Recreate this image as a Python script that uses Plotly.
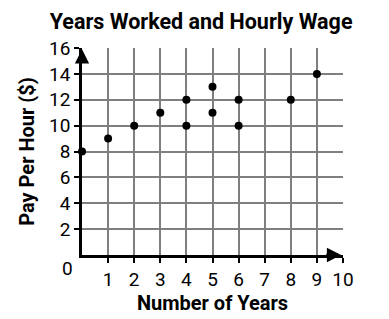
import plotly.graph_objects as go

# Data
years = [0, 1, 2, 3, 4, 4, 5, 5, 6, 6, 8, 9]
wage = [8, 9, 10, 11, 12, 10, 13, 11, 12, 10, 12, 14]
x_ticks = [1, 2, 3, 4, 5, 6, 7, 8, 9, 10]
y_ticks = [2, 4, 6, 8, 10, 12, 14, 16]

title_text = "Years Worked and Hourly Wage"
x_title = "Number of Years"
y_title = "Pay Per Hour ($)"

FONT = "Roboto"

fig = go.Figure()
fig.add_trace(go.Scatter(
    x=years, y=wage, mode="markers",
    marker=dict(color="black", size=8),
    cliponaxis=False, showlegend=False,
))

axis_common = dict(
    showgrid=True, gridcolor="#7f7f7f", gridwidth=1.6,
    showline=True, linecolor="black", linewidth=2.6,
    ticks="outside", ticklen=5, tickcolor="black", tickwidth=1.5,
    zeroline=False, fixedrange=True,
    tickfont=dict(family=FONT, size=19, color="black"),
)

fig.update_xaxes(range=[0, 10], tickvals=x_ticks, ticktext=[str(v) for v in x_ticks],
                 title=dict(text=x_title, font=dict(family=FONT, size=20, color="black", weight="bold"), standoff=2),
                 **axis_common)
fig.update_yaxes(range=[0, 16], tickvals=y_ticks, ticktext=[str(v) for v in y_ticks],
                 title=dict(text=y_title, font=dict(family=FONT, size=20, color="black", weight="bold"), standoff=10),
                 **axis_common)

# Arrowheads on axes
fig.add_annotation(x=9.93, y=0, ax=9.3, ay=0, xref="x", yref="y", axref="x", ayref="y",
                   showarrow=True, arrowhead=2, arrowsize=1.1, arrowwidth=2.6, arrowcolor="black", text="")
fig.add_annotation(x=0, y=15.9, ax=0, ay=15.0, xref="x", yref="y", axref="x", ayref="y",
                   showarrow=True, arrowhead=2, arrowsize=1.1, arrowwidth=2.6, arrowcolor="black", text="")
# Origin label
fig.add_annotation(x=0, y=0, xref="x", yref="y", text="0", showarrow=False,
                   xanchor="center", yanchor="middle", xshift=-15, yshift=-13,
                   font=dict(family=FONT, size=19, color="black"))

fig.update_layout(
    width=389, height=319,
    margin=dict(l=82, r=46, t=48, b=64),
    paper_bgcolor="white", plot_bgcolor="white",
    title=dict(text=title_text, x=0.517, xanchor="center", y=0.934, yanchor="middle",
               xref="container", yref="container",
               font=dict(family=FONT, size=21.5, color="black", weight="bold")),
)

fig.write_html("out.html", config={"displayModeBar": False})
